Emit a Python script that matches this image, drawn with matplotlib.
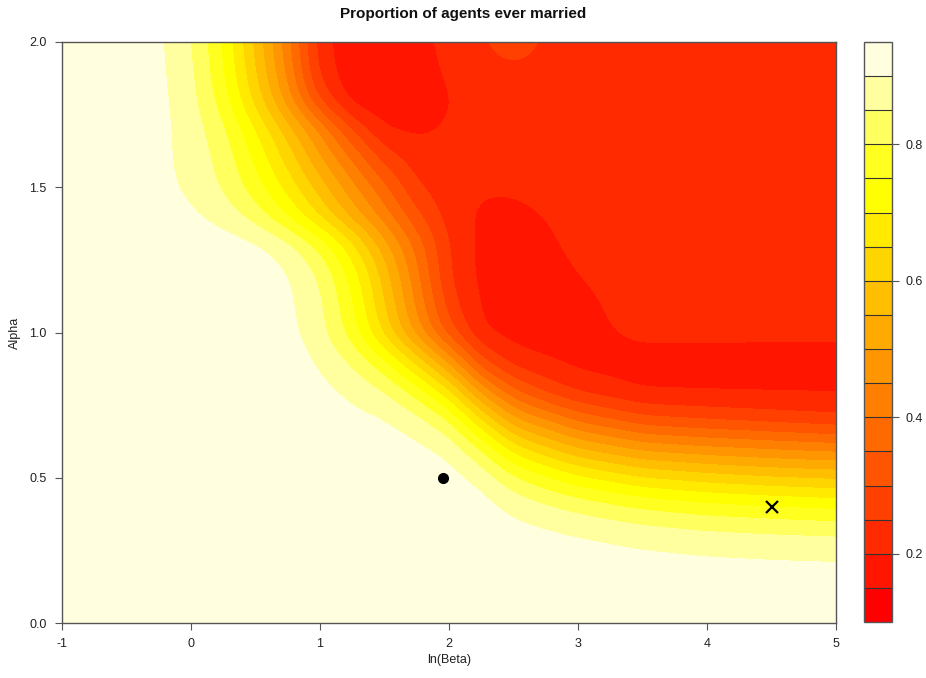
import numpy as np
import matplotlib
matplotlib.use("Agg")
from matplotlib import pyplot as plt
from matplotlib.colors import hsv_to_rgb

plt.rcParams['font.family'] = ['Liberation Sans', 'DejaVu Sans']

# grid
ln_beta = [-1, -0.5, -0.25, 0, 0.25, 0.5, 0.75, 1, 1.25, 1.5, 1.75, 2,
           2.25, 2.5, 2.75, 3, 3.5, 4, 4.5, 5]
alpha = [0, 0.2, 0.3, 0.4, 0.5, 0.6, 0.7, 0.8, 0.9, 1.0,
         1.1, 1.2, 1.3, 1.4, 1.5, 1.6, 1.7, 1.8, 1.9, 2.0]

# one row per alpha value, one column per ln(beta) value
prop_married = [
    [0.93]*20,
    [0.93]*16 + [0.92, 0.915, 0.912, 0.91],
    [0.93]*13 + [0.922, 0.913, 0.902, 0.883, 0.869, 0.861, 0.855],
    [0.93]*12 + [0.923, 0.888, 0.862, 0.838, 0.797, 0.772, 0.758, 0.745],
    [0.93]*11 + [0.922, 0.887, 0.81, 0.76, 0.712, 0.652, 0.625, 0.605, 0.592],
    [0.93]*9 + [0.925, 0.915, 0.887, 0.80, 0.674, 0.608, 0.55, 0.485, 0.462, 0.446, 0.432],
    [0.93]*8 + [0.914, 0.905, 0.869, 0.804, 0.649, 0.506, 0.445, 0.383, 0.312, 0.292, 0.275, 0.258],
    [0.93]*7 + [0.915, 0.888, 0.852, 0.776, 0.657, 0.472, 0.35, 0.28, 0.232, 0.19, 0.188, 0.188, 0.189],
    [0.93]*7 + [0.893, 0.843, 0.76, 0.632, 0.483, 0.303, 0.22, 0.198, 0.183, 0.18, 0.18, 0.18, 0.18],
    [0.93]*6 + [0.915, 0.868, 0.775, 0.63, 0.47, 0.315, 0.195, 0.18, 0.18, 0.185, 0.212, 0.212, 0.21, 0.21],
    [0.93]*6 + [0.912, 0.862, 0.755, 0.60, 0.435, 0.27, 0.19, 0.18, 0.178, 0.19, 0.217, 0.22, 0.22, 0.22],
    [0.93]*6 + [0.905, 0.845, 0.73, 0.574, 0.41, 0.245, 0.185, 0.178, 0.18, 0.2, 0.22, 0.22, 0.22, 0.22],
    [0.93]*5 + [0.913, 0.871, 0.79, 0.665, 0.52, 0.38, 0.245, 0.185, 0.178, 0.19, 0.212, 0.22, 0.22, 0.22, 0.22],
    [0.93, 0.93, 0.925, 0.91, 0.878, 0.828, 0.745, 0.64, 0.528, 0.42, 0.31, 0.225, 0.19, 0.183, 0.2, 0.22, 0.22, 0.22, 0.22, 0.22],
    [0.93, 0.93, 0.915, 0.889, 0.845, 0.77, 0.68, 0.573, 0.463, 0.36, 0.25, 0.22, 0.205, 0.208, 0.22, 0.22, 0.22, 0.22, 0.22, 0.22],
    [0.93, 0.93, 0.913, 0.882, 0.83, 0.74, 0.628, 0.505, 0.39, 0.275, 0.222, 0.215, 0.22, 0.22, 0.22, 0.22, 0.22, 0.22, 0.22, 0.22],
    [0.93, 0.93, 0.915, 0.878, 0.812, 0.70, 0.573, 0.44, 0.29, 0.195, 0.19, 0.205] + [0.22]*8,
    [0.93, 0.93, 0.915, 0.868, 0.775, 0.63, 0.47, 0.285, 0.17, 0.165, 0.17, 0.198] + [0.22]*8,
    [0.93, 0.93, 0.912, 0.862, 0.755, 0.60, 0.435, 0.225, 0.165, 0.165, 0.172, 0.21, 0.22, 0.228, 0.22, 0.22, 0.22, 0.22, 0.22, 0.22],
    [0.93, 0.93, 0.91, 0.855, 0.745, 0.585, 0.415, 0.215, 0.168, 0.17, 0.185, 0.215, 0.238, 0.3, 0.238, 0.22, 0.22, 0.22, 0.22, 0.22],
]

levels = [0.1, 0.15, 0.2, 0.25, 0.3, 0.35, 0.4, 0.45, 0.5, 0.55, 0.6,
          0.65, 0.7, 0.75, 0.8, 0.85, 0.9, 0.95]
bar_ticks = [0.2, 0.4, 0.6, 0.8]
x_ticks = [-1, 0, 1, 2, 3, 4, 5]
y_ticks = [0.0, 0.5, 1.0, 1.5, 2.0]
dot_point = (1.95, 0.5)
cross_point = (4.5, 0.4)


def heat_colors(n):
    # same recipe as R's heat.colors()
    j = n // 4
    i = n - j
    cols = [hsv_to_rgb((h, 1, 1)) for h in np.linspace(0, 1/6, i)]
    cols += [hsv_to_rgb((1/6, s, 1)) for s in np.linspace(1 - 1/(2*j), 1/(2*j), j)]
    return cols


def resample(xs, ys, z, nx=301, ny=201):
    """bilinear resample of z onto a fine regular grid"""
    fx = np.linspace(xs[0], xs[-1], nx)
    fy = np.linspace(ys[0], ys[-1], ny)
    tmp = np.array([np.interp(fx, xs, row) for row in z])
    out = np.array([np.interp(fy, ys, col) for col in tmp.T]).T
    return fx, fy, out


def blur(z, sx, sy):
    # light separable gaussian, only to round off the grid corners
    def kern(s):
        r = int(3*s)
        k = np.exp(-0.5*(np.arange(-r, r+1)/s)**2)
        return k/k.sum(), r
    kx, rx = kern(sx)
    ky, ry = kern(sy)
    zp = np.pad(z, ((0, 0), (rx, rx)), mode='edge')
    z = np.array([np.convolve(row, kx, mode='valid') for row in zp])
    zp = np.pad(z, ((ry, ry), (0, 0)), mode='edge')
    z = np.array([np.convolve(col, ky, mode='valid') for col in zp.T]).T
    return z


fx, fy, fz = resample(ln_beta, alpha, np.array(prop_married))
fz = blur(fz, 4, 4)

W, H = 926, 678
fig = plt.figure(figsize=(W/100, H/100), dpi=100)
ax = fig.add_axes([62/W, 55/H, 774/W, 581/H])
cax = fig.add_axes([864/W, 56/H, 28/W, 580/H])

axcol = '#555555'
txtcol = '#222222'

cs = ax.contourf(fx, fy, fz, levels=levels,
                 colors=heat_colors(len(levels) - 1))
ax.plot(*dot_point, 'o', color='k', ms=7)
ax.plot(*cross_point, 'x', color='k', ms=9, mew=1.6)

ax.set_xlim(-1, 5)
ax.set_ylim(0, 2)
ax.set_xticks(x_ticks)
ax.set_xticklabels([str(v) for v in x_ticks])
ax.set_yticks(y_ticks)
ax.set_yticklabels(['%.1f' % v for v in y_ticks])
ax.tick_params(direction='out', length=5, width=0.8, color=axcol,
               labelcolor=txtcol, labelsize=9)
ax.tick_params(axis='x', pad=6)
ax.tick_params(axis='y', pad=6)
for sp in ax.spines.values():
    sp.set_color(axcol)
    sp.set_linewidth(1)

cb = fig.colorbar(cs, cax=cax, ticks=bar_ticks, drawedges=True)
cb.dividers.set_color('#333333')
cb.dividers.set_linewidth(0.8)
cb.outline.set_edgecolor(axcol)
cb.outline.set_linewidth(1)
cax.set_yticklabels(['%.1f' % v for v in bar_ticks])
cax.tick_params(direction='out', length=5, width=0.8, color=axcol,
                labelcolor=txtcol, labelsize=9, pad=5)

fig.text(0.5, 1 - 14/H, 'Proportion of agents ever married', ha='center',
         va='center', fontsize=11, fontweight='bold', color='#111111')
fig.text(449/W, 1 - 660/H, 'ln(Beta)', ha='center', va='center',
         fontsize=9, color=txtcol)
fig.text(15/W, 1 - 333/H, 'Alpha', ha='center', va='center', rotation=90,
         fontsize=9, color=txtcol)

fig.savefig('out.png', dpi=100)
